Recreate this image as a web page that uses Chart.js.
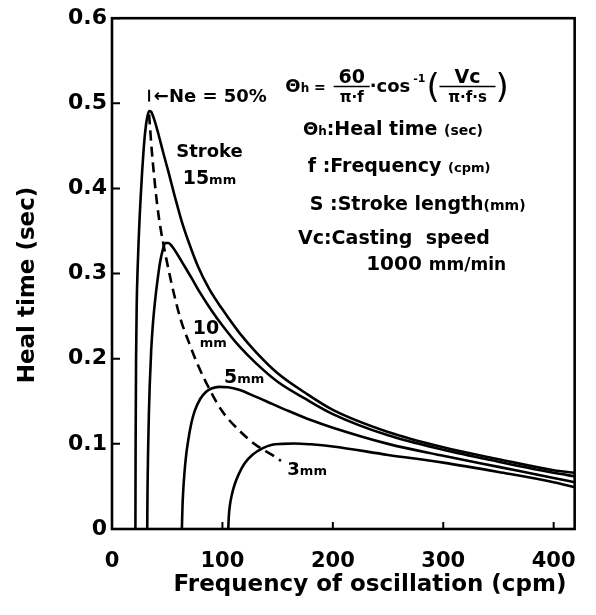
<!DOCTYPE html>
<html>
<head>
<meta charset="UTF-8">
<title>Heal time vs frequency</title>
<script src="https://cdn.jsdelivr.net/npm/chart.js@4.4.0/dist/chart.umd.min.js"></script>
<style>
  html, body { margin: 0; padding: 0; background: #fff; }
</style>
</head>
<body>
<canvas id="myChart" width="596" height="615"></canvas>
<script>
// values: frequency (cpm) and heal time (sec)
var freq15 = [21.2, 21.4, 21.8, 22.4, 23.2, 24.1, 25.1, 26.2, 27.3, 28.5, 30, 31.8, 33.6, 35.5, 38, 42, 46, 51, 57, 63, 70, 78, 88, 100, 115, 131, 150, 175, 200, 250, 300, 350, 400, 419];
var heal15 = [0, 0.10, 0.20, 0.265, 0.305, 0.338, 0.368, 0.395, 0.42, 0.443, 0.466, 0.483, 0.491, 0.49, 0.482, 0.464, 0.444, 0.42, 0.39, 0.362, 0.335, 0.308, 0.282, 0.258, 0.231, 0.207, 0.183, 0.160, 0.140, 0.114, 0.096, 0.082, 0.069, 0.066];

var freq10 = [31.9, 32.2, 32.7, 33.4, 34.2, 35.5, 37, 39, 41, 43.5, 46, 48.3, 51, 55, 60, 66, 72, 80, 90, 100, 115, 131, 150, 175, 200, 250, 300, 350, 400, 419];
var heal10 = [0, 0.05, 0.092, 0.135, 0.17, 0.21, 0.24, 0.268, 0.29, 0.313, 0.328, 0.336, 0.336, 0.331, 0.321, 0.308, 0.295, 0.277, 0.257, 0.239, 0.215, 0.194, 0.173, 0.153, 0.135, 0.110, 0.093, 0.079, 0.066, 0.062];

var freq5 = [63.3, 63.8, 64.5, 65.5, 67, 69, 72, 75, 80, 85, 90, 97, 105, 115, 130, 145, 160, 180, 200, 250, 300, 350, 400, 419];
var heal5 = [0, 0.025, 0.045, 0.064, 0.085, 0.104, 0.125, 0.139, 0.153, 0.161, 0.165, 0.167, 0.1665, 0.1635, 0.1555, 0.147, 0.1386, 0.128, 0.119, 0.100, 0.086, 0.073, 0.060, 0.055];

var freq3 = [105.3, 105.8, 106.8, 108.5, 111, 115, 120, 127, 136.6, 145, 154, 165, 180, 200, 250, 300, 350, 400, 419];
var heal3 = [0, 0.015, 0.028, 0.040, 0.052, 0.065, 0.077, 0.087, 0.095, 0.099, 0.100, 0.1005, 0.0995, 0.097, 0.087, 0.078, 0.067, 0.055, 0.049];

// Ne = 50% line (dashed)
var freqNe = [33.6, 36, 38.5, 41, 44, 48, 54, 62, 70, 78, 88, 100, 115, 130, 145, 153];
var healNe = [0.487, 0.445, 0.41, 0.38, 0.353, 0.325, 0.288, 0.247, 0.218, 0.192, 0.165, 0.138, 0.116, 0.099, 0.087, 0.080];

var xTicks = [0, 100, 200, 300, 400];
var yTicks = [0, 0.1, 0.2, 0.3, 0.4, 0.5, 0.6];

var FONT = '"DejaVu Sans", sans-serif';
function bold(sz) { return 'bold ' + sz + 'px ' + FONT; }

function pts(xs, ys) {
  return xs.map(function (x, i) { return { x: x, y: ys[i] }; });
}

function curve(xs, ys, dash) {
  return {
    data: pts(xs, ys),
    borderColor: '#000',
    borderWidth: 2.6,
    borderDash: dash || [],
    pointRadius: 0,
    fill: false,
    cubicInterpolationMode: 'monotone'
  };
}

// draw a row of text pieces [text, size], left aligned on a baseline
function runs(ctx, parts, x, y) {
  ctx.textAlign = 'left';
  ctx.textBaseline = 'alphabetic';
  parts.forEach(function (p) {
    ctx.font = bold(p[1]);
    ctx.fillText(p[0], x, y);
    x += ctx.measureText(p[0]).width;
  });
  return x;
}

var notes = [
  { f: 58.2, h: 0.4366, parts: [['Stroke', 18]] },
  { f: 64, h: 0.4052, parts: [['15', 19], ['mm', 13]] },
  { f: 73.2, h: 0.2285, parts: [['10', 19]] },
  { f: 79.4, h: 0.214, parts: [['mm', 13]] },
  { f: 101.4, h: 0.171, parts: [['5', 19], ['mm', 13]] },
  { f: 158.8, h: 0.0634, parts: [['3', 18], ['mm', 13]] },
  { f: 37.9, h: 0.501, parts: [['\u2190Ne = 50%', 18]] },
  { f: 172.9, h: 0.4628, parts: [['\u0398', 18], ['h', 12], [':Heal time ', 19], ['(sec)', 14]] },
  { f: 177.3, h: 0.4198, parts: [['f :Frequency ', 19], ['(cpm)', 13]] },
  { f: 179.1, h: 0.3744, parts: [['S :Stroke length', 19], ['(mm)', 14]] },
  { f: 168.5, h: 0.3349, parts: [['Vc:Casting  speed', 19]] },
  { f: 230.2, h: 0.3047, parts: [['1000 ', 20], ['mm/min', 17]] }
];

var decor = {
  id: 'decor',
  afterDraw: function (chart) {
    var ctx = chart.ctx, a = chart.chartArea;
    var xs = chart.scales.x, ys = chart.scales.y;
    ctx.save();
    ctx.strokeStyle = '#000';
    ctx.fillStyle = '#000';
    ctx.lineWidth = 2.6;
    ctx.strokeRect(a.left, a.top, a.right - a.left, a.bottom - a.top);

    // inward ticks
    ctx.lineWidth = 2;
    ctx.beginPath();
    xTicks.forEach(function (v) {
      var px = xs.getPixelForValue(v);
      ctx.moveTo(px, a.bottom); ctx.lineTo(px, a.bottom - 7);
    });
    yTicks.forEach(function (v) {
      var py = ys.getPixelForValue(v);
      ctx.moveTo(a.left, py); ctx.lineTo(a.left + 8, py);
    });
    ctx.stroke();

    // marker of the Ne line
    ctx.beginPath();
    var bx = xs.getPixelForValue(33.6);
    ctx.moveTo(bx, ys.getPixelForValue(0.502));
    ctx.lineTo(bx, ys.getPixelForValue(0.516));
    ctx.stroke();

    notes.forEach(function (n) {
      runs(ctx, n.parts, xs.getPixelForValue(n.f), ys.getPixelForValue(n.h));
    });

    // formula
    var fx = xs.getPixelForValue(157), fy = ys.getPixelForValue(0.5198);
    var x = runs(ctx, [['\u0398', 18], ['h', 12], [' = ', 14]], fx, fy + 6);
    ctx.lineWidth = 1.6;
    function frac(top, bot, x0, w) {
      ctx.beginPath(); ctx.moveTo(x0, fy); ctx.lineTo(x0 + w, fy); ctx.stroke();
      ctx.textAlign = 'center';
      ctx.font = bold(19); ctx.fillText(top, x0 + w / 2, fy - 3);
      ctx.font = bold(15); ctx.fillText(bot, x0 + w / 2, fy + 16);
      return x0 + w;
    }
    x = frac('60', '\u03c0\u00b7f', x + 3, 36);
    x = runs(ctx, [['\u00b7cos', 18]], x, fy + 6);
    x = runs(ctx, [['-1', 11]], x + 3, fy - 4);
    ctx.textAlign = 'left';
    ctx.font = '34px ' + FONT;
    ctx.fillText('(', x + 1, fy + 12);
    x = frac('Vc', '\u03c0\u00b7f\u00b7s', x + 14, 56);
    ctx.font = '34px ' + FONT;
    ctx.textAlign = 'left';
    ctx.fillText(')', x, fy + 12);

    // axis titles
    ctx.textAlign = 'center';
    ctx.textBaseline = 'middle';
    ctx.font = bold(23);
    ctx.fillText('Frequency of oscillation (cpm)', 370, 585);
    ctx.translate(28, 285);
    ctx.rotate(-Math.PI / 2);
    ctx.fillText('Heal time (sec)', 0, 0);
    ctx.restore();
  }
};

var ctx = document.getElementById('myChart').getContext('2d');
var myChart = new Chart(ctx, {
  type: 'line',
  data: {
    datasets: [
      curve(freq15, heal15),
      curve(freq10, heal10),
      curve(freq5, heal5),
      curve(freq3, heal3),
      curve(freqNe, healNe, [10, 6])
    ]
  },
  options: {
    responsive: false,
    animation: false,
    layout: { padding: { top: 13, right: 9, left: 0, bottom: 0 } },
    plugins: { legend: { display: false }, tooltip: { enabled: false } },
    scales: {
      x: {
        type: 'linear',
        min: 0,
        max: 419,
        afterFit: function (s) { s.height = 86; },
        afterBuildTicks: function (s) { s.ticks = xTicks.map(function (v) { return { value: v }; }); },
        border: { display: false },
        grid: { display: false, drawTicks: false },
        ticks: { color: '#000', font: { family: FONT, size: 21, weight: 'bold' }, padding: 20, maxRotation: 0 }
      },
      y: {
        min: 0,
        max: 0.6,
        afterFit: function (s) { s.width = 112; },
        afterBuildTicks: function (s) { s.ticks = yTicks.map(function (v) { return { value: v }; }); },
        border: { display: false },
        grid: { display: false, drawTicks: false },
        ticks: {
          color: '#000',
          font: { family: FONT, size: 22, weight: 'bold' },
          padding: 5,
          callback: function (v) { return v === 0 ? '0' : v.toFixed(1); }
        }
      }
    }
  },
  plugins: [decor]
});
</script>
</body>
</html>
